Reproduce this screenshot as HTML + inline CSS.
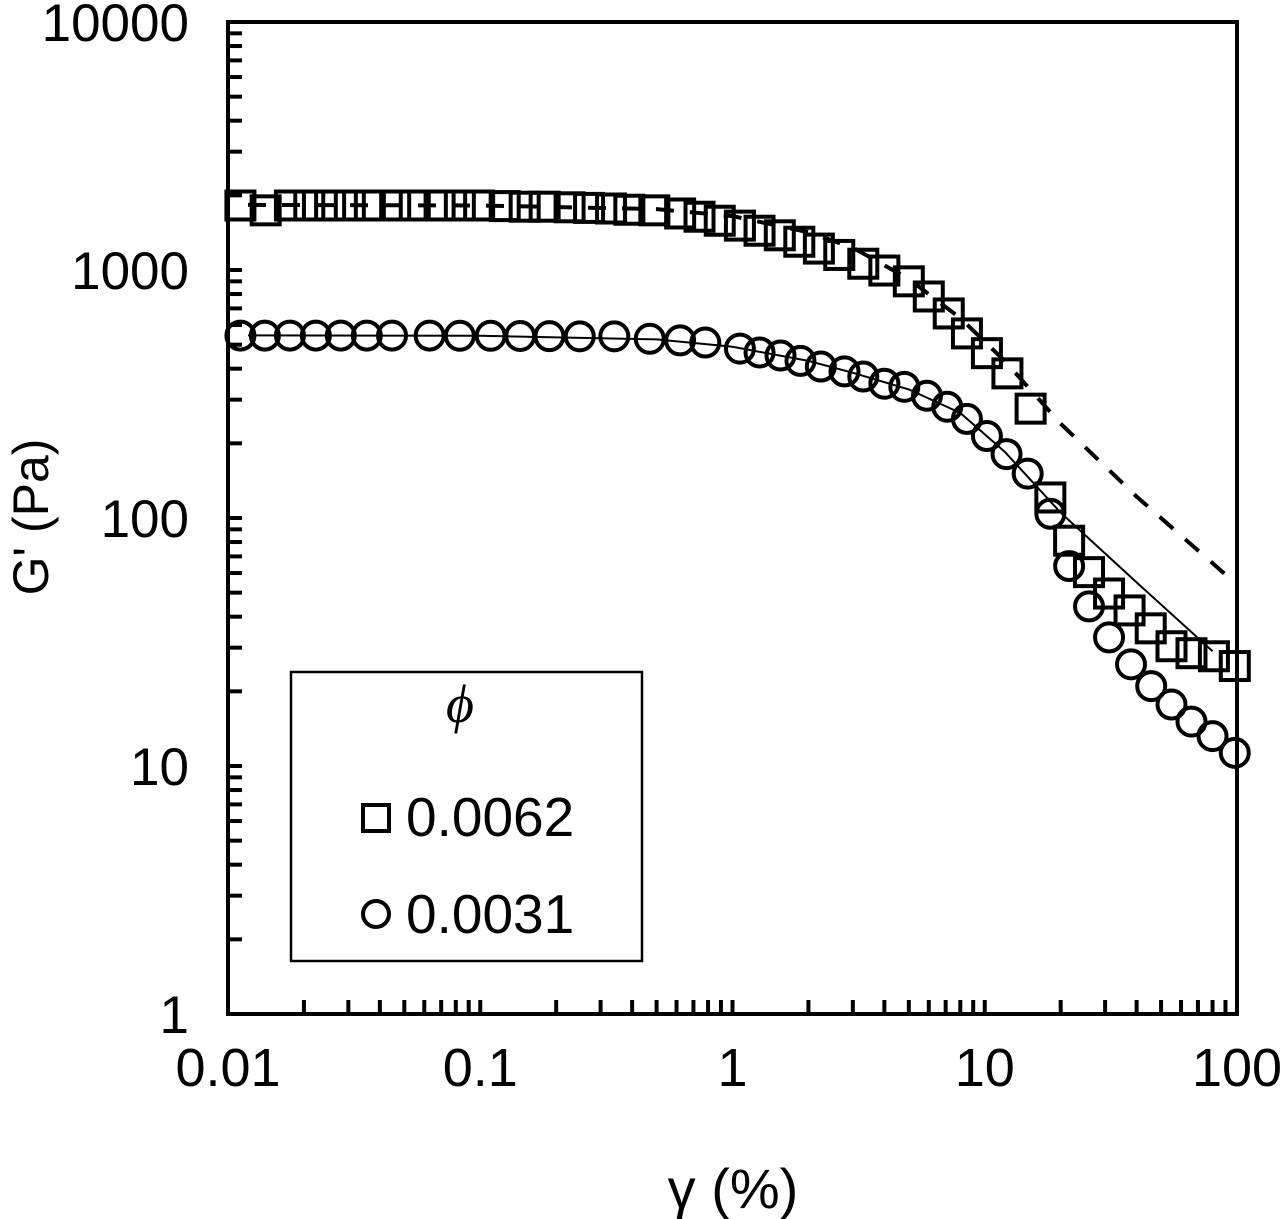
<!DOCTYPE html>
<html><head><meta charset="utf-8"><style>
html,body{margin:0;padding:0;background:#fff;}
svg{display:block;font-family:"Liberation Sans",sans-serif;}
</style></head><body>
<svg id="chart" width="1280" height="1219" viewBox="0 0 1280 1219" xmlns="http://www.w3.org/2000/svg">
<g id="axes"></g>
<g id="lines"></g>
<g id="marks"></g>
<text x="733" y="1208" font-size="56" text-anchor="middle">γ (%)</text>
<text x="0" y="0" font-size="50" text-anchor="middle" transform="translate(48,517) rotate(-90)">G' (Pa)</text>
<g>
<rect x="291" y="672" width="351" height="289" fill="#fff" stroke="#000" stroke-width="2.5"/>
<text x="460" y="722" font-size="54" font-style="italic" font-family="Liberation Serif, serif" text-anchor="middle">ϕ</text>
<rect x="363" y="805" width="26" height="26" fill="none" stroke="#000" stroke-width="4"/>
<text x="406" y="836" font-size="55">0.0062</text>
<circle cx="376" cy="914" r="13" fill="none" stroke="#000" stroke-width="4"/>
<text x="406" y="933" font-size="55">0.0031</text>
</g>
</svg>
<script>
const xTicks=[0.01,0.1,1,10,100];
const xTickLabels=["0.01","0.1","1","10","100"];
const yTicks=[1,10,100,1000,10000];
const yTickLabels=["1","10","100","1000","10000"];
const sqGamma=[0.0112,0.0141,0.0176,0.021,0.0254,0.0304,0.0365,0.046,0.055,0.069,0.083,0.099,0.125,0.15,0.18,0.226,0.27,0.33,0.39,0.49,0.62,0.74,0.89,1.07,1.28,1.54,1.84,2.2,2.65,3.3,4.0,5.0,6.0,7.2,8.5,10.2,12.3,15.2,18.2,21.6,25.9,31.1,37.5,45.5,55,66,81,98];
const sqG=[1820,1740,1820,1820,1820,1820,1820,1820,1820,1820,1820,1820,1810,1800,1800,1790,1780,1770,1750,1740,1690,1640,1580,1510,1440,1380,1300,1220,1150,1060,995,900,782,668,555,462,383,276,121,81,60.5,49.6,42.4,35.9,30.4,28.5,27.7,25.3];
const ciGamma=[0.0112,0.014,0.0176,0.0223,0.028,0.0355,0.0447,0.063,0.083,0.11,0.144,0.188,0.248,0.34,0.47,0.62,0.78,1.07,1.28,1.55,1.86,2.24,2.78,3.3,4.0,4.8,5.9,7.1,8.5,10.2,12.2,14.8,18.2,21.6,25.9,31.1,38,45.7,55,66,80,98];
const ciG=[544,544,544,544,544,544,544,544,543,543,542,541,540,540,528,520,510,482,465,452,430,408,390,372,348,338,311,281,251,214,181,151,104,64,44,33,25.7,21,17.7,15.1,13.2,11.3];
const dashGamma=[0.012,0.1,0.5,1,2,3,5,8,12,20,40,92];
const dashG=[1830,1820,1760,1650,1420,1230,920,640,430,240,122,58];
const solidGamma=[0.012,0.1,0.5,1,2,3,5,8,12,20,40,80];
const solidG=[545,543,525,490,430,385,330,265,185,105,55,29];

const X0=228,X1=1237,Y0=1014,Y1=22;
function xs(v){return X0+(Math.log10(v)+2)/4*(X1-X0);}
function ys(v){return Y0-Math.log10(v)/4*(Y0-Y1);}
const NS="http://www.w3.org/2000/svg";
function mk(tag,parent,attrs){const e=document.createElementNS(NS,tag);for(const k in attrs)e.setAttribute(k,attrs[k]);parent.appendChild(e);return e;}
const axes=document.getElementById('axes');
const frame=mk('rect',axes,{x:X0,y:Y1,width:X1-X0,height:Y0-Y1,fill:'none',stroke:'#000','stroke-width':4});


for(let d=-2;d<2;d++){for(let m=1;m<10;m++){const v=m*Math.pow(10,d);const x=xs(v);
 const t=mk('line',axes,{x1:x,x2:x,y1:Y0,y2:Y0-14,stroke:'#000','stroke-width':4});
 
 }}
for(let d=0;d<4;d++){for(let m=1;m<10;m++){const v=m*Math.pow(10,d);const y=ys(v);
 const t=mk('line',axes,{x1:X0,x2:X0+14,y1:y,y2:y,stroke:'#000','stroke-width':4});
 
 }}
xTicks.forEach((v,i)=>{const t=mk('text',axes,{x:xs(v),y:1086,'font-size':54,'text-anchor':'middle'});t.textContent=xTickLabels[i];
 
 });
yTicks.forEach((v,i)=>{const t=mk('text',axes,{x:189,y:ys(v)+19,'font-size':53,'text-anchor':'end'});t.textContent=yTickLabels[i];
 
 });
const lines=document.getElementById('lines');
function path(gx,gy){return gx.map((g,i)=>(i?'L':'M')+xs(g).toFixed(1)+','+ys(gy[i]).toFixed(1)).join(' ');}
const dl=mk('path',lines,{d:path(dashGamma,dashG),fill:'none',stroke:'#000','stroke-width':4,'stroke-dasharray':'18,16'});


const sl=mk('path',lines,{d:path(solidGamma,solidG),fill:'none',stroke:'#000','stroke-width':2});


const marks=document.getElementById('marks');
sqGamma.forEach((g,i)=>{const x=xs(g),y=ys(sqG[i]);
 const r=mk('rect',marks,{x:x-14,y:y-14,width:28,height:28,fill:'none',stroke:'#000','stroke-width':4});
 
 });
ciGamma.forEach((g,i)=>{const x=xs(g),y=ys(ciG[i]);
 const c=mk('circle',marks,{cx:x,cy:y,r:14,fill:'none',stroke:'#000','stroke-width':4});
 
 });
</script>
</body></html>
